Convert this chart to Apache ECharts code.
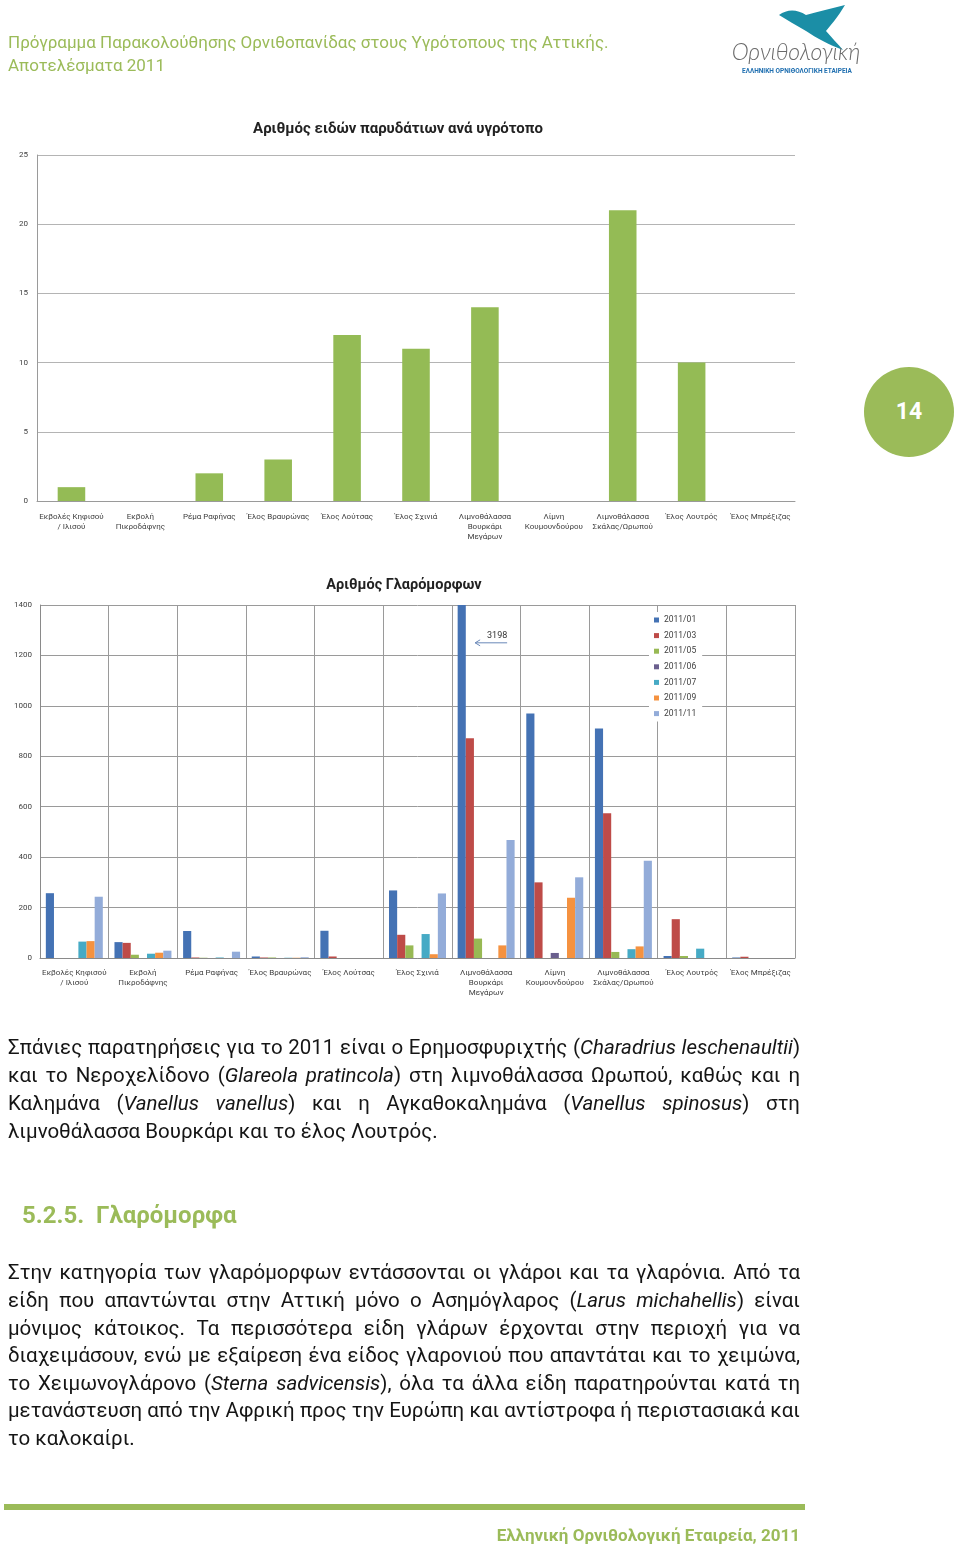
<!DOCTYPE html>
<html><head><meta charset="utf-8">
<script src="https://cdn.jsdelivr.net/npm/echarts@6/dist/echarts.min.js"></script>
<style>
html,body{margin:0;padding:0;background:#fff;}
#page{position:relative;width:960px;height:1554px;overflow:hidden;font-family:Roboto,"Noto Sans",sans-serif;}
#chart{position:absolute;left:0;top:0;width:960px;height:1554px;z-index:1;}
.t{position:absolute;white-space:nowrap;z-index:2;}
.hdr{color:#9BBB59;font-size:17px;left:8px;line-height:20px;}
.line{position:absolute;left:8px;width:792px;font-size:20.5px;line-height:28px;color:#151515;text-align:justify;text-align-last:justify;z-index:2;}
.last{text-align-last:left;}
#circle{position:absolute;left:864px;top:367px;width:90px;height:90px;border-radius:50%;background:#9BBB59;color:#fff;font-weight:bold;font-size:23px;line-height:90px;text-align:center;z-index:2;}
#bar{position:absolute;left:4px;top:1504px;width:801px;height:6px;background:#9BBB59;z-index:2;}
</style></head>
<body><div id="page">
<div id="chart"></div>
<div class="t hdr" style="top:32px">Πρόγραμμα Παρακολούθησης Ορνιθοπανίδας στους Υγρότοπους της Αττικής.</div>
<div class="t hdr" style="top:55px">Αποτελέσματα 2011</div>
<svg class="t" style="left:720px;top:0px" width="150" height="80" viewBox="720 0 150 80">
  <path d="M779,15 C787,9 797,9 806,15 C818,12 832,8 845,5 C838,17 830,26 826,31 C832,38 838,44 843,50 C830,45 816,38 806,31 C796,25 787,20 779,15 Z" fill="#1b8ea6"/>
  <text x="796" y="60" text-anchor="middle" font-family="Lato, sans-serif" font-weight="300" font-style="italic" font-size="23" fill="#6a6a6a">Ορνιθολογική</text>
  <text x="797" y="73" text-anchor="middle" font-family="Roboto, sans-serif" font-weight="bold" font-size="6.5" fill="#1f6fb0">ΕΛΛΗΝΙΚΗ ΟΡΝΙΘΟΛΟΓΙΚΗ ΕΤΑΙΡΕΙΑ</text>
</svg>
<div id="circle">14</div>
<div class="line" style="top:1033px">Σπάνιες παρατηρήσεις για το 2011 είναι ο Ερημοσφυριχτής (<i>Charadrius leschenaultii</i>)</div>
<div class="line" style="top:1061px">και το Νεροχελίδονο (<i>Glareola pratincola</i>) στη λιμνοθάλασσα Ωρωπού, καθώς και η</div>
<div class="line" style="top:1089px">Καλημάνα (<i>Vanellus vanellus</i>) και η Αγκαθοκαλημάνα (<i>Vanellus spinosus</i>) στη</div>
<div class="line last" style="top:1117px">λιμνοθάλασσα Βουρκάρι και το έλος Λουτρός.</div>
<div class="t" style="left:22px;top:1200px;font-size:24px;font-weight:bold;color:#9BBB59;line-height:30px">5.2.5.&nbsp; Γλαρόμορφα</div>
<div class="line" style="top:1258px">Στην κατηγορία των γλαρόμορφων εντάσσονται οι γλάροι και τα γλαρόνια. Από τα</div>
<div class="line" style="top:1286px">είδη που απαντώνται στην Αττική μόνο ο Ασημόγλαρος (<i>Larus michahellis</i>) είναι</div>
<div class="line" style="top:1314px">μόνιμος κάτοικος. Τα περισσότερα είδη γλάρων έρχονται στην περιοχή για να</div>
<div class="line" style="top:1341px">διαχειμάσουν, ενώ με εξαίρεση ένα είδος γλαρονιού που απαντάται και το χειμώνα,</div>
<div class="line" style="top:1369px">το Χειμωνογλάρονο (<i>Sterna sadvicensis</i>), όλα τα άλλα είδη παρατηρούνται κατά τη</div>
<div class="line" style="top:1396px">μετανάστευση από την Αφρική προς την Ευρώπη και αντίστροφα ή περιστασιακά και</div>
<div class="line last" style="top:1424px">το καλοκαίρι.</div>
<div id="bar"></div>
<div class="t" style="right:160px;top:1524px;font-size:17px;font-weight:bold;color:#9BBB59;line-height:22px">Ελληνική Ορνιθολογική Εταιρεία, 2011</div>
</div>
<script>
// ---- data ----
const categories = ['Εκβολές Κηφισού\n/ Ιλισού','Εκβολή\nΠικροδάφνης','Ρέμα Ραφήνας','Έλος Βραυρώνας','Έλος Λούτσας','Έλος Σχινιά','Λιμνοθάλασσα\nΒουρκάρι\nΜεγάρων','Λίμνη\nΚουμουνδούρου','Λιμνοθάλασσα\nΣκάλας/Ωρωπού','Έλος Λουτρός','Έλος Μπρέξιζας'];
const speciesCounts = [1,0,2,3,12,11,14,0,21,10,0];
const speciesTicks = [0,5,10,15,20,25];
const months = ['2011/01','2011/03','2011/05','2011/06','2011/07','2011/09','2011/11'];
const gull_2011_01 = [257,63,107,6,108,268,3198,970,910,8,2];
const gull_2011_03 = [0,60,2,2,6,92,872,300,574,154,5];
const gull_2011_05 = [0,13,1,2,0,50,77,0,24,8,0];
const gull_2011_06 = [0,0,0,0,0,0,0,20,0,0,0];
const gull_2011_07 = [65,17,2,1,0,95,0,0,35,37,0];
const gull_2011_09 = [67,21,0,1,0,15,50,239,46,0,0];
const gull_2011_11 = [243,29,25,3,0,256,468,320,386,0,0];
const gullTicks = [0,200,400,600,800,1000,1200,1400];
const gullSeries = [gull_2011_01,gull_2011_03,gull_2011_05,gull_2011_06,gull_2011_07,gull_2011_09,gull_2011_11];
const chart1Title = 'Αριθμός ειδών παρυδάτιων ανά υγρότοπο';
const chart2Title = 'Αριθμός Γλαρόμορφων';
const offChartLabel = '3198';

// fit justified lines
document.querySelectorAll('.line').forEach(el=>{
  let fs=20.5; while(el.scrollHeight>32 && fs>12){fs-=0.25; el.style.fontSize=fs+'px';}
});

const colors = ['#4472B4','#BE4B48','#98B954','#6A5F8E','#46AAC5','#F59240','#93ACD9'];
const FONT = 'Roboto';
const chart = echarts.init(document.getElementById('chart'), null, {renderer:'canvas'});
const axisLbl = {fontSize:8, color:'#404040', fontFamily:FONT, lineHeight:10, interval:0};
const plain = v => String(v);
const titles = [
  {type:'text', x:398, y:129, style:{text:chart1Title, font:'bold 15px '+FONT, fill:'#222', align:'center', verticalAlign:'middle'}},
  {type:'text', x:404, y:585, style:{text:chart2Title, font:'bold 14.5px '+FONT, fill:'#222', align:'center', verticalAlign:'middle'}}
];
chart.setOption({
  animation:false,
  color: colors,
  grid:[
    {left:37, top:155, width:758, height:346},
    {left:40, top:605, width:755, height:353}
  ],
  legend:{
    data: months, orient:'vertical', left:649, top:612, itemWidth:5, itemHeight:5, itemGap:5.6,
    icon:'rect', backgroundColor:'#fff', padding:[3,6,3,5],
    textStyle:{fontSize:8.5, color:'#404040', fontFamily:FONT, lineHeight:10}
  },
  xAxis:[
    {type:'category', gridIndex:0, data:categories, axisTick:{show:false},
     axisLine:{lineStyle:{color:'#9a9a9a'}}, axisLabel:Object.assign({margin:11}, axisLbl)},
    {type:'category', gridIndex:1, data:categories, axisTick:{show:false},
     axisLine:{lineStyle:{color:'#8a8a8a'}}, splitLine:{show:true, interval:0, lineStyle:{color:'#9a9a9a'}},
     axisLabel:Object.assign({margin:10}, axisLbl)}
  ],
  yAxis:[
    {type:'value', gridIndex:0, min:speciesTicks[0], max:speciesTicks[speciesTicks.length-1], interval:speciesTicks[1]-speciesTicks[0],
     axisLine:{show:true, lineStyle:{color:'#9a9a9a'}}, axisTick:{show:false},
     splitLine:{lineStyle:{color:'#b4b4b4'}}, axisLabel:{fontSize:8, color:'#404040', fontFamily:FONT, margin:9, formatter:plain}},
    {type:'value', gridIndex:1, min:gullTicks[0], max:gullTicks[gullTicks.length-1], interval:gullTicks[1]-gullTicks[0],
     axisLine:{show:true, lineStyle:{color:'#8a8a8a'}}, axisTick:{show:false},
     splitLine:{lineStyle:{color:'#9a9a9a'}}, axisLabel:{fontSize:8, color:'#404040', fontFamily:FONT, margin:8, formatter:plain}}
  ],
  series:[
    {type:'bar', name:'species', xAxisIndex:0, yAxisIndex:0, data:speciesCounts, barWidth:'40%', itemStyle:{color:'#94BB55'}},
    ...months.map((m,i)=>({type:'bar', name:m, xAxisIndex:1, yAxisIndex:1, data:gullSeries[i],
      barGap:'0%', barCategoryGap:'17%', clip:true, itemStyle:{color:colors[i]}}))
  ],
  graphic: titles
});
// annotation for the clipped bar
const p = chart.convertToPixel({xAxisIndex:1, yAxisIndex:1}, [categories[6], 1250]);
chart.setOption({graphic: titles.concat([
  {type:'text', x:p[0]+11, y:p[1]-7, style:{text:offChartLabel, font:'9px '+FONT, fill:'#333', align:'center', verticalAlign:'middle'}},
  {type:'polyline', shape:{points:[[p[0]+21,p[1]],[p[0]-11,p[1]]]}, style:{stroke:'#6a88b8', lineWidth:1}},
  {type:'polyline', shape:{points:[[p[0]-6,p[1]-3],[p[0]-11,p[1]],[p[0]-6,p[1]+3]]}, style:{stroke:'#6a88b8', lineWidth:1, fill:null}}
])});
</script>
</body></html>
